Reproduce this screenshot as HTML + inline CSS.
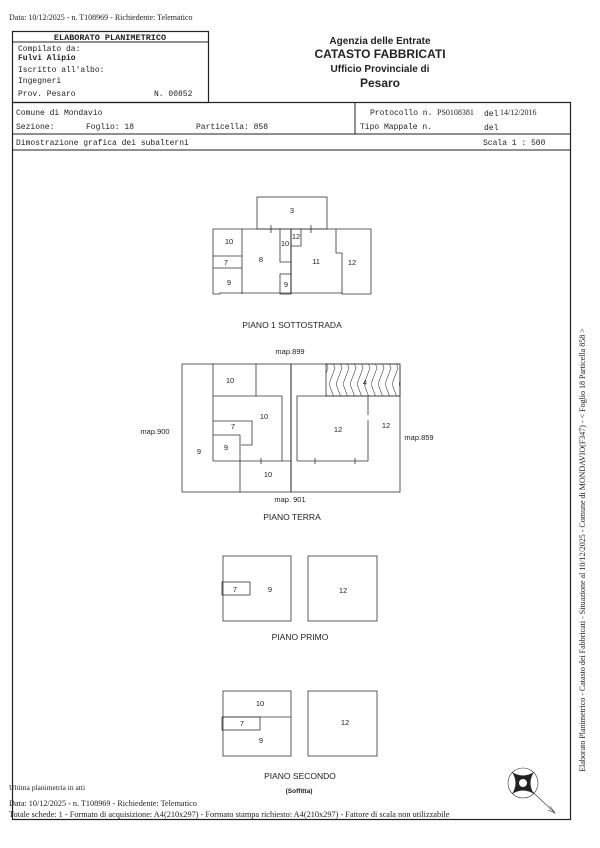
<!DOCTYPE html>
<html><head><meta charset="utf-8"><style>
body{margin:0;background:#fff;width:600px;height:848px;overflow:hidden}
svg{display:block}
.m{font-family:"Liberation Mono",monospace;font-size:8px;fill:#222}
.s{font-family:"Liberation Serif",serif;font-size:8px;fill:#222}
.a{font-family:"Liberation Sans",sans-serif;fill:#222}
</style></head><body>
<svg width="600" height="848" viewBox="0 0 600 848" xmlns="http://www.w3.org/2000/svg">
<defs><pattern id="h" width="7" height="32" patternUnits="userSpaceOnUse"><path d="M0,0 L6,16 L0,32" stroke="#444" fill="none" stroke-width="0.6"/></pattern></defs>
<text x="9" y="20" class="s">Data: 10/12/2025 - n. T108969 - Richiedente: Telematico</text>
<rect x="12.5" y="31.5" width="196" height="71" fill="none" stroke="#222" stroke-width="1.2"/>
<line x1="12" y1="42" x2="208" y2="42" stroke="#222"/>
<text x="110" y="40" class="m" text-anchor="middle" font-weight="bold" style="font-size:8.5px">ELABORATO PLANIMETRICO</text>
<text x="18" y="51" class="m">Compilato da:</text>
<text x="18" y="60" class="m" font-weight="bold">Fulvi Alipio</text>
<text x="18" y="72" class="m">Iscritto all'albo:</text>
<text x="18" y="83" class="m">Ingegneri</text>
<text x="18" y="96" class="m">Prov. Pesaro</text>
<text x="154" y="96" class="m">N. 00852</text>
<text x="380" y="44" class="a" text-anchor="middle" font-size="10" font-weight="bold">Agenzia delle Entrate</text>
<text x="380" y="58" class="a" text-anchor="middle" font-size="12" font-weight="bold">CATASTO FABBRICATI</text>
<text x="380" y="72" class="a" text-anchor="middle" font-size="10" font-weight="bold">Ufficio Provinciale di</text>
<text x="380" y="87" class="a" text-anchor="middle" font-size="12" font-weight="bold">Pesaro</text>
<rect x="12.5" y="102.5" width="558" height="717" fill="none" stroke="#222" stroke-width="1.2"/>
<line x1="12" y1="134" x2="571" y2="134" stroke="#222"/>
<line x1="12" y1="150" x2="571" y2="150" stroke="#222"/>
<line x1="355" y1="102" x2="355" y2="134" stroke="#222"/>
<text x="16" y="115" class="m">Comune di Mondavio</text>
<text x="16" y="129" class="m">Sezione:</text>
<text x="86" y="129" class="m">Foglio: 18</text>
<text x="196" y="129" class="m">Particella: 858</text>
<text x="370" y="115" class="m">Protocollo n.</text>
<text x="437" y="115" class="s">PS0108381</text>
<text x="484" y="116" class="m">del</text>
<text x="500" y="115" class="s">14/12/2016</text>
<text x="360" y="129" class="m">Tipo Mappale n.</text>
<text x="484" y="130" class="m">del</text>
<text x="16" y="145" class="m">Dimostrazione grafica dei subalterni</text>
<text x="483" y="145" class="m">Scala 1 : 500</text>
<g fill="none" stroke="#333" stroke-width="0.8">
<rect x="257" y="197" width="70" height="32"/>
<path d="M213,229 H371 V294 H342 V293 H220 V294 H213 Z"/>
<line x1="242" y1="229" x2="242" y2="294"/>
<line x1="213" y1="256" x2="242" y2="256"/><line x1="213" y1="268" x2="242" y2="268"/>
<path d="M280,229 V262 H291"/>
<line x1="291" y1="229" x2="291" y2="294" stroke-width="1.1"/>
<path d="M291,246 H301 V229"/>
<rect x="280" y="274" width="11" height="20"/>
<path d="M336,229 V253 H342 V294"/>
<line x1="271" y1="225" x2="271" y2="233"/><line x1="311" y1="225" x2="311" y2="233"/>
<rect x="182" y="364" width="218" height="128"/>
<line x1="291" y1="364" x2="291" y2="492" stroke-width="1.1"/>
<line x1="213" y1="364" x2="213" y2="461"/>
<line x1="256" y1="364" x2="256" y2="396"/>
<path d="M213,396 H282 V461"/>
<path d="M213,421 H252 V445 H241"/>
<path d="M213,435 H240 V492"/>
<path d="M213,461 H291 M297,461 V396 H368 V415 M368,420 V461 H297"/>
<rect x="326" y="364" width="74" height="32" fill="url(#h)"/>
<line x1="326" y1="396" x2="400" y2="396"/>
<line x1="261" y1="458" x2="261" y2="464"/><line x1="315" y1="458" x2="315" y2="464"/><line x1="355" y1="458" x2="355" y2="464"/>
<rect x="223" y="556" width="68" height="65"/>
<rect x="308" y="556" width="69" height="65"/>
<rect x="222" y="582" width="28" height="13"/>
<rect x="223" y="691" width="68" height="65"/>
<rect x="308" y="691" width="69" height="65"/>
<line x1="223" y1="717" x2="291" y2="717"/>
<rect x="222" y="717" width="38" height="13"/>
<circle cx="523" cy="783" r="15" stroke-width="0.6"/>
<line x1="523" y1="783" x2="555" y2="813" stroke-width="0.6"/>
<path d="M550,806 L555,813 L548,810" stroke-width="0.6"/>
</g>
<path d="M512,772 Q523,779 534,772 Q527,783 534,794 Q523,787 512,794 Q519,783 512,772Z" fill="#222"/>
<circle cx="523" cy="783" r="4.5" fill="#fff" stroke="#222"/>
<g class="a" font-size="7.5" text-anchor="middle">
<text x="292" y="213">3</text><text x="229" y="244">10</text><text x="226" y="265">7</text><text x="261" y="262">8</text>
<text x="285" y="246">10</text><text x="296" y="239">12</text><text x="316" y="264">11</text><text x="352" y="265">12</text>
<text x="229" y="285">9</text><text x="286" y="287">9</text>
<text x="292" y="328" font-size="8.5">PIANO 1 SOTTOSTRADA</text>
<text x="290" y="354">map.899</text><text x="155" y="434">map.900</text><text x="419" y="440">map.859</text><text x="290" y="502">map. 901</text>
<text x="230" y="383">10</text><text x="264" y="419">10</text><text x="233" y="429">7</text><text x="226" y="450">9</text><text x="199" y="454">9</text>
<text x="268" y="477">10</text><text x="338" y="432">12</text><text x="386" y="428">12</text><text x="365" y="385">4</text>
<text x="292" y="520" font-size="8.5">PIANO TERRA</text>
<text x="235" y="592">7</text><text x="270" y="592">9</text><text x="343" y="593">12</text>
<text x="300" y="640" font-size="8.5">PIANO PRIMO</text>
<text x="260" y="706">10</text><text x="242" y="726">7</text><text x="261" y="743">9</text><text x="345" y="725">12</text>
<text x="300" y="779" font-size="8.5">PIANO SECONDO</text>
<text x="299" y="793" font-size="6.5" font-weight="bold">(Soffitta)</text>
</g>
<text x="9" y="790" class="s" style="font-size:7.5px">Ultima planimetria in atti</text>
<text x="9" y="806" class="s" style="font-size:8.2px">Data: 10/12/2025 - n. T108969 - Richiedente: Telematico</text>
<text x="9" y="817" class="s" style="font-size:8.3px">Totale schede: 1 - Formato di acquisizione: A4(210x297)  - Formato stampa richiesto: A4(210x297) - Fattore di scala non utilizzabile</text>
<text transform="translate(585,550) rotate(-90)" class="s" text-anchor="middle" style="font-size:8px">Elaborato Planimetrico - Catasto dei Fabbricati - Situazione al 10/12/2025 - Comune di MONDAVIO(F347) - &lt; Foglio 18 Particella 858 &gt;</text>
</svg>
</body></html>
